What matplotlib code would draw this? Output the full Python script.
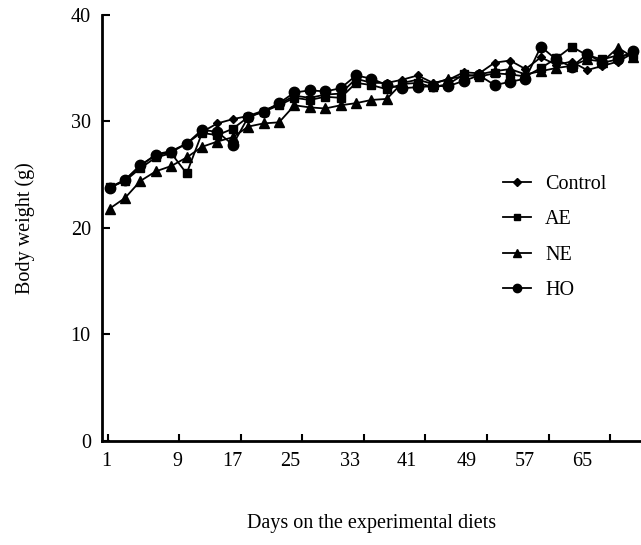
import matplotlib
matplotlib.use('Agg')
import matplotlib.pyplot as plt

# days on the diets (one reading every 2 days)
days = list(range(1, 70, 2))

control = [23.8, 24.5, 25.8, 26.9, 27.2, 27.9, 29.0, 29.8, 30.2, 30.5,
           31.0, 31.6, 32.4, 32.2, 32.5, 32.6, 34.0, 33.6, 33.6, 33.9,
           34.3, 33.6, 33.9, 34.6, 34.5, 35.5, 35.7, 34.9, 36.0, 35.3,
           35.6, 34.8, 35.2, 35.6, 36.4]
ae = [23.8, 24.4, 25.6, 26.6, 27.0, 25.1, 28.9, 28.7, 29.3, 30.4,
      30.9, 31.5, 32.2, 32.0, 32.3, 32.2, 33.6, 33.4, 33.0, 33.5,
      33.6, 33.2, 33.5, 34.4, 34.2, 34.5, 34.4, 34.2, 35.0, 35.9,
      37.0, 36.2, 35.8, 36.2, 36.2]
ne = [21.8, 22.8, 24.4, 25.3, 25.8, 26.6, 27.6, 28.1, 28.5, 29.5,
      29.8, 29.9, 31.5, 31.3, 31.2, 31.5, 31.7, 32.0, 32.1, 33.6,
      33.9, 33.5, 34.0, 34.2, 34.4, 34.7, 34.9, 34.4, 34.7, 35.0,
      35.2, 35.8, 35.6, 36.9, 36.0]
ho = [23.7, 24.5, 25.9, 26.8, 27.1, 27.9, 29.2, 29.0, 27.8, 30.4,
      30.9, 31.7, 32.7, 32.9, 32.8, 33.1, 34.3, 34.0, 33.4, 33.1,
      33.2, 33.3, 33.3, 33.8, 34.3, 33.4, 33.7, 34.0, 37.0, 35.8,
      35.1, 36.3, 35.5, 35.8, 36.6]

tick_labels = ['1', '9', '17', '25', '33', '41', '49', '57', '65']
# where the labels sit under the axis (they are not on the tick marks)
label_pos = [0.6, 9.8, 17.0, 24.5, 32.2, 39.6, 47.4, 54.9, 62.4]
tick_pos = [0.75, 10, 18, 26, 34, 42, 50, 58, 66]

plt.rcParams['font.family'] = ['Liberation Serif', 'DejaVu Serif']

fig = plt.figure(figsize=(6.41, 5.45), dpi=100)
ax = fig.add_axes([0.159, 0.191, 0.841, 0.782])

ax.plot(days, control, color='black', lw=1.3, marker='D', ms=4.5, label='Control')
ax.plot(days, ae, color='black', lw=1.3, marker='s', ms=6, label='AE')
ax.plot(days, ne, color='black', lw=1.3, marker='^', ms=6.5, label='NE')
ax.plot(days, ho, color='black', lw=1.3, marker='o', ms=7.5, label='HO')

ax.set_xlim(0, 70)
ax.set_ylim(0, 40)
ax.set_yticks([0, 10, 20, 30, 40])
ax.tick_params(axis='y', direction='in', length=6, width=1.5, labelsize=14.5, pad=8)

ax.set_xticks(tick_pos)
ax.set_xticklabels([])
ax.tick_params(axis='x', which='major', direction='in', length=5, width=1.5)
ax.set_xticks(label_pos, tick_labels, minor=True)
ax.tick_params(axis='x', which='minor', length=0, labelsize=14.5, pad=8)

for s in ['top', 'right']:
    ax.spines[s].set_visible(False)
for s in ['left', 'bottom']:
    ax.spines[s].set_linewidth(2)

ax.set_xlabel('Days on the experimental diets', fontsize=14.5, labelpad=31)
ax.set_ylabel('Body weight (g)', fontsize=14.5, labelpad=26)

ax.legend(loc='upper left', bbox_to_anchor=(0.744, 0.625), frameon=False,
          fontsize=14.5, handlelength=1.4, labelspacing=0.82,
          borderaxespad=0, borderpad=0, handletextpad=0.7, markerscale=0.8)

plt.savefig('out.png', dpi=100)
